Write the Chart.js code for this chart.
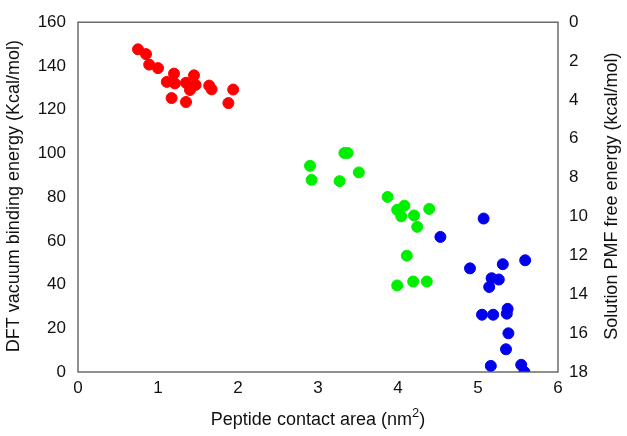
<!DOCTYPE html>
<html>
<head>
<meta charset="utf-8">
<script src="https://cdn.jsdelivr.net/npm/chart.js@4/dist/chart.umd.min.js"></script>
<style>
  html, body { margin: 0; padding: 0; background: #fff; }
  #wrap { width: 627px; height: 436px; }
</style>
</head>
<body>
<div id="wrap"><canvas id="chart" width="627" height="436"></canvas></div>
<script>
// peptide contact area (nm^2) vs DFT vacuum binding energy (Kcal/mol)
const redX = [0.75, 0.85, 0.89, 1.00, 1.11, 1.20, 1.21, 1.17, 1.35, 1.35, 1.45, 1.47, 1.40, 1.64, 1.67, 1.94, 1.88];
const redY = [147.6, 145.4, 140.6, 139.0, 132.7, 136.5, 132.0, 125.3, 123.5, 132.3, 135.7, 131.3, 129.0, 131.0, 129.3, 129.2, 123.0];

const greenX = [2.90, 2.92, 3.33, 3.37, 3.27, 3.51, 3.87, 3.99, 4.08, 4.04, 4.20, 4.39, 4.24, 4.11, 3.99, 4.19, 4.36];
const greenY = [94.3, 87.9, 100.2, 100.2, 87.3, 91.3, 80.1, 74.2, 76.1, 71.2, 71.6, 74.6, 66.4, 53.2, 39.6, 41.4, 41.4];

const blueX = [5.07, 4.53, 5.59, 5.31, 4.90, 5.17, 5.26, 5.14, 5.37, 5.36, 5.05, 5.19, 5.38, 5.35, 5.16, 5.54, 5.58];
const blueY = [70.2, 61.8, 51.1, 49.3, 47.4, 42.9, 42.3, 38.9, 28.9, 26.7, 26.2, 26.2, 17.7, 10.4, 2.8, 3.3, 0.0];

const xTicks = [0, 1, 2, 3, 4, 5, 6];
const leftTicks = [0, 20, 40, 60, 80, 100, 120, 140, 160];
const rightTicks = [0, 2, 4, 6, 8, 10, 12, 14, 16, 18];

const xTitle = ['Peptide contact area (nm', '2', ')'];
const leftTitle = 'DFT vacuum binding energy (Kcal/mol)';
const rightTitle = 'Solution PMF free energy (kcal/mol)';

function pts(xs, ys) {
  return xs.map((x, i) => ({ x: x, y: ys[i] }));
}

const FAMILY = '"Liberation Sans", Arial, sans-serif';
const tickFont = { family: FAMILY, size: 17 };

// box round the plot area + axis titles (right one reads bottom-to-top, x one has a superscript)
const frame = {
  id: 'frame',
  afterDraw(chart) {
    const a = chart.chartArea, ctx = chart.ctx;
    ctx.save();
    ctx.strokeStyle = '#555';
    ctx.lineWidth = 1.3;
    ctx.strokeRect(a.left, a.top, a.right - a.left, a.bottom - a.top);

    ctx.fillStyle = '#111';
    ctx.textBaseline = 'middle';
    ctx.textAlign = 'center';
    ctx.font = '18px ' + FAMILY;
    const midY = (a.top + a.bottom) / 2;
    [[14, leftTitle], [612, rightTitle]].forEach(([x, t]) => {
      ctx.save();
      ctx.translate(x, midY - 1);
      ctx.rotate(-Math.PI / 2);
      ctx.fillText(t, 0, 0);
      ctx.restore();
    });

    // x title
    ctx.textAlign = 'left';
    ctx.textBaseline = 'alphabetic';
    const big = '18px ' + FAMILY, small = '13px ' + FAMILY;
    ctx.font = big; const w0 = ctx.measureText(xTitle[0]).width, w2 = ctx.measureText(xTitle[2]).width;
    ctx.font = small; const w1 = ctx.measureText(xTitle[1]).width;
    let x = (a.left + a.right) / 2 - (w0 + w1 + w2) / 2;
    const base = 425;
    ctx.font = big; ctx.fillText(xTitle[0], x, base); x += w0;
    ctx.font = small; ctx.fillText(xTitle[1], x, base - 8); x += w1;
    ctx.font = big; ctx.fillText(xTitle[2], x, base);
    ctx.restore();
  }
};

new Chart(document.getElementById('chart').getContext('2d'), {
  type: 'scatter',
  data: {
    datasets: [
      { data: pts(redX, redY), backgroundColor: '#ff0000', borderColor: '#ff0000', pointRadius: 5.5, yAxisID: 'y' },
      { data: pts(greenX, greenY), backgroundColor: '#00ee00', borderColor: '#00ee00', pointRadius: 5.5, yAxisID: 'y' },
      { data: pts(blueX, blueY), backgroundColor: '#0000ee', borderColor: '#0000ee', pointRadius: 5.5, yAxisID: 'y' }
    ]
  },
  options: {
    responsive: false,
    animation: false,
    layout: { padding: 0 },
    plugins: { legend: { display: false }, tooltip: { enabled: false } },
    scales: {
      x: {
        type: 'linear', min: 0, max: 6,
        afterBuildTicks: s => { s.ticks = xTicks.map(v => ({ value: v })); },
        afterFit: s => { s.height = 64; },
        grid: { display: false, drawTicks: false },
        border: { display: false },
        ticks: { font: tickFont, color: '#111', padding: 6, maxRotation: 0 }
      },
      y: {
        type: 'linear', position: 'left', min: 0, max: 160,
        afterBuildTicks: s => { s.ticks = leftTicks.map(v => ({ value: v })); },
        afterFit: s => { s.width = 78; },
        grid: { display: false, drawTicks: false },
        border: { display: false },
        ticks: { font: tickFont, color: '#111', padding: 12 }
      },
      y2: {
        type: 'linear', position: 'right', min: 0, max: 18, reverse: true,
        afterBuildTicks: s => { s.ticks = rightTicks.map(v => ({ value: v })); },
        afterFit: s => { s.width = 69; },
        grid: { display: false, drawTicks: false },
        border: { display: false },
        ticks: { font: tickFont, color: '#111', padding: 11 }
      }
    }
  },
  plugins: [frame]
});
</script>
</body>
</html>
